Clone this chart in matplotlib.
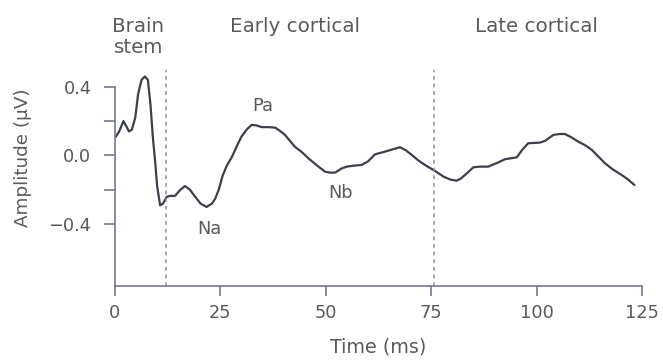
import numpy as np
import matplotlib
matplotlib.use("Agg")
import matplotlib.pyplot as plt

plt.rcParams['font.family'] = ['DejaVu Sans']

# waveform (time in ms, amplitude in uV)
time_ms = [0.2, 1.0, 2.0, 2.7, 3.3, 4.0, 4.8, 5.5, 6.3, 7.1, 7.8, 8.4, 9.0, 9.5,
           10.0, 10.7, 11.4, 12.3, 13.2, 14.2, 15.5, 16.6, 17.8, 19.0, 20.3, 21.7,
           23.0, 23.8, 24.6, 25.5, 26.5, 27.7, 29.0, 30.0, 31.2, 32.4, 33.5, 34.8,
           36.5, 38.0, 39.3, 40.3, 41.5, 42.7, 44.3, 45.9, 48.0, 49.8, 51.0, 52.2,
           53.8, 55.0, 56.1, 58.5, 60.0, 61.7, 64.0, 65.8, 67.6, 69.0, 70.4, 72.0,
           73.5, 75.9, 77.9, 79.5, 81.0, 82.0, 83.0, 85.0, 86.5, 88.5, 90.5, 92.5,
           95.3, 96.5, 98.0, 100.8, 102.0, 104.0, 105.5, 106.7, 108.3, 109.9, 111.5,
           113.1, 114.6, 116.2, 118.0, 120.2, 121.7, 123.2]
amplitude = [0.11, 0.14, 0.20, 0.17, 0.14, 0.15, 0.22, 0.36, 0.44, 0.46, 0.44, 0.30,
             0.10, -0.03, -0.18, -0.29, -0.28, -0.24, -0.235, -0.236, -0.20, -0.178,
             -0.20, -0.24, -0.28, -0.30, -0.28, -0.25, -0.20, -0.12, -0.06, -0.01,
             0.06, 0.11, 0.15, 0.178, 0.175, 0.165, 0.165, 0.162, 0.14, 0.12, 0.085,
             0.05, 0.02, -0.017, -0.06, -0.094, -0.10, -0.10, -0.075, -0.065, -0.061,
             -0.055, -0.035, 0.007, 0.022, 0.035, 0.048, 0.03, 0.003, -0.03, -0.055,
             -0.09, -0.123, -0.14, -0.147, -0.135, -0.114, -0.069, -0.065, -0.065,
             -0.045, -0.022, -0.011, 0.03, 0.071, 0.075, 0.085, 0.12, 0.125, 0.125,
             0.105, 0.08, 0.06, 0.032, -0.005, -0.045, -0.08, -0.114, -0.14, -0.172]

boundaries = [12.0, 75.7]
regions = ["Brain", "stem", "Early cortical", "Late cortical"]
region_x = [5.5, 5.5, 42.7, 100.0]
region_y = [0.72, 0.598, 0.72, 0.72]
peaks = ["Na", "Pa", "Nb"]
peak_x = [22.5, 35.0, 53.5]
peak_y = [-0.43, 0.29, -0.22]
xticks = [0, 25, 50, 75, 100, 125]
yticks = [-0.4, -0.2, 0.0, 0.2, 0.4]
ylabels = ["\u22120.4", "", "0.0", "", "0.4"]

txt = "#5a5a5a"
axc = "#6b7080"

fig = plt.figure(figsize=(6.63, 3.60), dpi=100)
ax = fig.add_axes([115 / 663, 74 / 360, 527 / 663, 225 / 360])

ax.plot(time_ms, amplitude, color="#3c404a", lw=1.6, solid_capstyle="round")
for b in boundaries:
    ax.plot([b, b], [-0.76, 0.5], color="#8a8f9a", lw=1.1, ls=(0, (2.5, 2.5)))

ax.set_xlim(0, 125)
ax.set_ylim(-0.76, 0.55)
ax.spines["top"].set_visible(False)
ax.spines["right"].set_visible(False)
ax.spines["left"].set_bounds(-0.76, 0.4)
ax.spines["bottom"].set_bounds(0, 125)
for s in ("left", "bottom"):
    ax.spines[s].set_color(axc)
    ax.spines[s].set_linewidth(1.1)

ax.set_xticks(xticks)
ax.set_yticks(yticks)
ax.set_yticklabels(ylabels)
ax.tick_params(width=1.1, color=axc, labelcolor=txt, labelsize=12.8)
ax.tick_params(axis="x", length=7, pad=6)
ax.tick_params(axis="y", length=8, pad=9)

ax.set_xlabel("Time (ms)", fontsize=13.8, color=txt, labelpad=11)
ax.set_ylabel("Amplitude (\u00b5V)", fontsize=13.2, color=txt)
ax.yaxis.set_label_coords(-0.158, 0.569)

for name, x, y in zip(regions, region_x, region_y):
    ax.text(x, y, name, ha="center", va="baseline", fontsize=14.3, color=txt,
            clip_on=False)
for name, x, y in zip(peaks, peak_x, peak_y):
    ax.text(x, y, name, ha="center", va="center", fontsize=12.8, color=txt)

fig.savefig("out.png", dpi=100)
